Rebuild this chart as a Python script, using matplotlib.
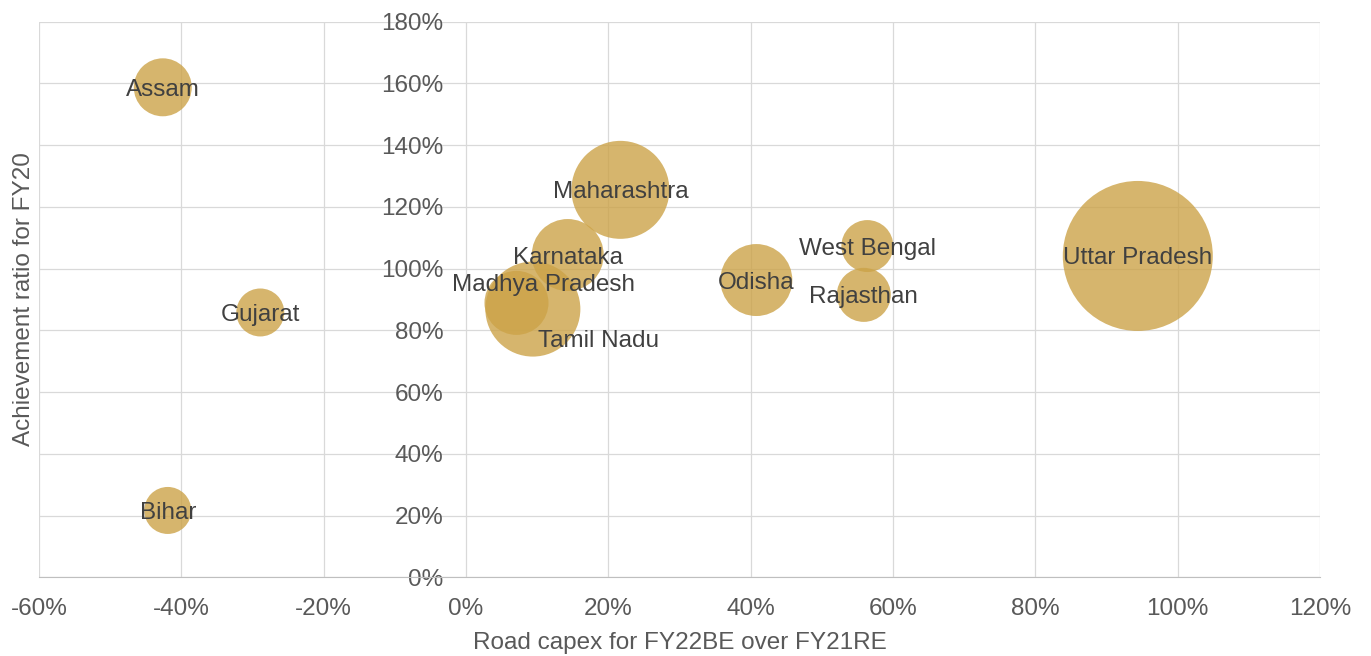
import numpy as np
import matplotlib.pyplot as plt
from matplotlib.ticker import PercentFormatter

plt.rcParams['font.family'] = ['Liberation Sans', 'DejaVu Sans']
plt.rcParams['axes.unicode_minus'] = False

# states with road capex growth (x), FY20 achievement ratio (y) and bubble size
states = ['Assam', 'Gujarat', 'Bihar', 'Maharashtra', 'Karnataka', 'Madhya Pradesh',
          'Tamil Nadu', 'Odisha', 'West Bengal', 'Rajasthan', 'Uttar Pradesh']
capex_growth = [-42.6, -28.9, -41.9, 21.7, 14.3, 7.1, 9.4, 40.8, 56.4, 55.9, 94.4]
achievement = [158.7, 85.8, 21.7, 125.5, 104.4, 88.9, 86.9, 96.3, 107.3, 91.5, 104.1]
road_capex = [33.6, 23.0, 22.1, 96.0, 51.8, 41.0, 90.3, 51.8, 27.0, 29.2, 225.0]

# a couple of labels pushed off their bubbles so they don't collide (points)
label_shift = {'Madhya Pradesh': (19.5, 14.5), 'Tamil Nadu': (47.5, -21)}

txt_col = '#595959'
fs = 17.5

fig, ax = plt.subplots(figsize=(13.71, 6.56), dpi=100)
fig.subplots_adjust(left=0.0284, right=0.9628, bottom=0.1197, top=0.9672)

# bubble area proportional to capex, biggest bubble ~54pt radius
sizes = (108.0 ** 2) * np.array(road_capex) / max(road_capex)
ax.scatter(capex_growth, achievement, s=sizes, color='#CCA348', alpha=0.8,
           linewidths=0, zorder=3, clip_on=False)

for name, xv, yv in zip(states, capex_growth, achievement):
    ax.annotate(name, (xv, yv), xytext=label_shift.get(name, (0, 0)),
                textcoords='offset points', ha='center', va='center_baseline',
                fontsize=fs, color='#404040', zorder=4)

ax.set_xlim(-60, 120)
ax.set_ylim(0, 180)
ax.set_xticks(np.arange(-60, 121, 20))
ax.set_yticks(np.arange(0, 181, 20))
ax.xaxis.set_major_formatter(PercentFormatter(decimals=0))
ax.yaxis.set_major_formatter(PercentFormatter(decimals=0))

ax.grid(True, color='#d9d9d9', linewidth=0.9)
ax.set_axisbelow(True)

# y labels sit on the 0% line, like the original chart
ax.spines['left'].set_position(('data', 0))
ax.spines['left'].set_color('none')
ax.spines['right'].set_visible(False)
ax.spines['top'].set_visible(False)
ax.spines['bottom'].set_color('#bfbfbf')

ax.tick_params(axis='both', length=0, labelsize=fs, labelcolor=txt_col)
ax.tick_params(axis='y', pad=16)
ax.tick_params(axis='x', pad=14.5)

ax.set_xlabel('Road capex for FY22BE over FY21RE', fontsize=fs, color=txt_col, labelpad=9)
ax.set_ylabel('Achievement ratio for FY20', fontsize=fs, color=txt_col)
ax.yaxis.set_label_coords(-0.003, 0.5)

plt.savefig('out.png', dpi=100)
